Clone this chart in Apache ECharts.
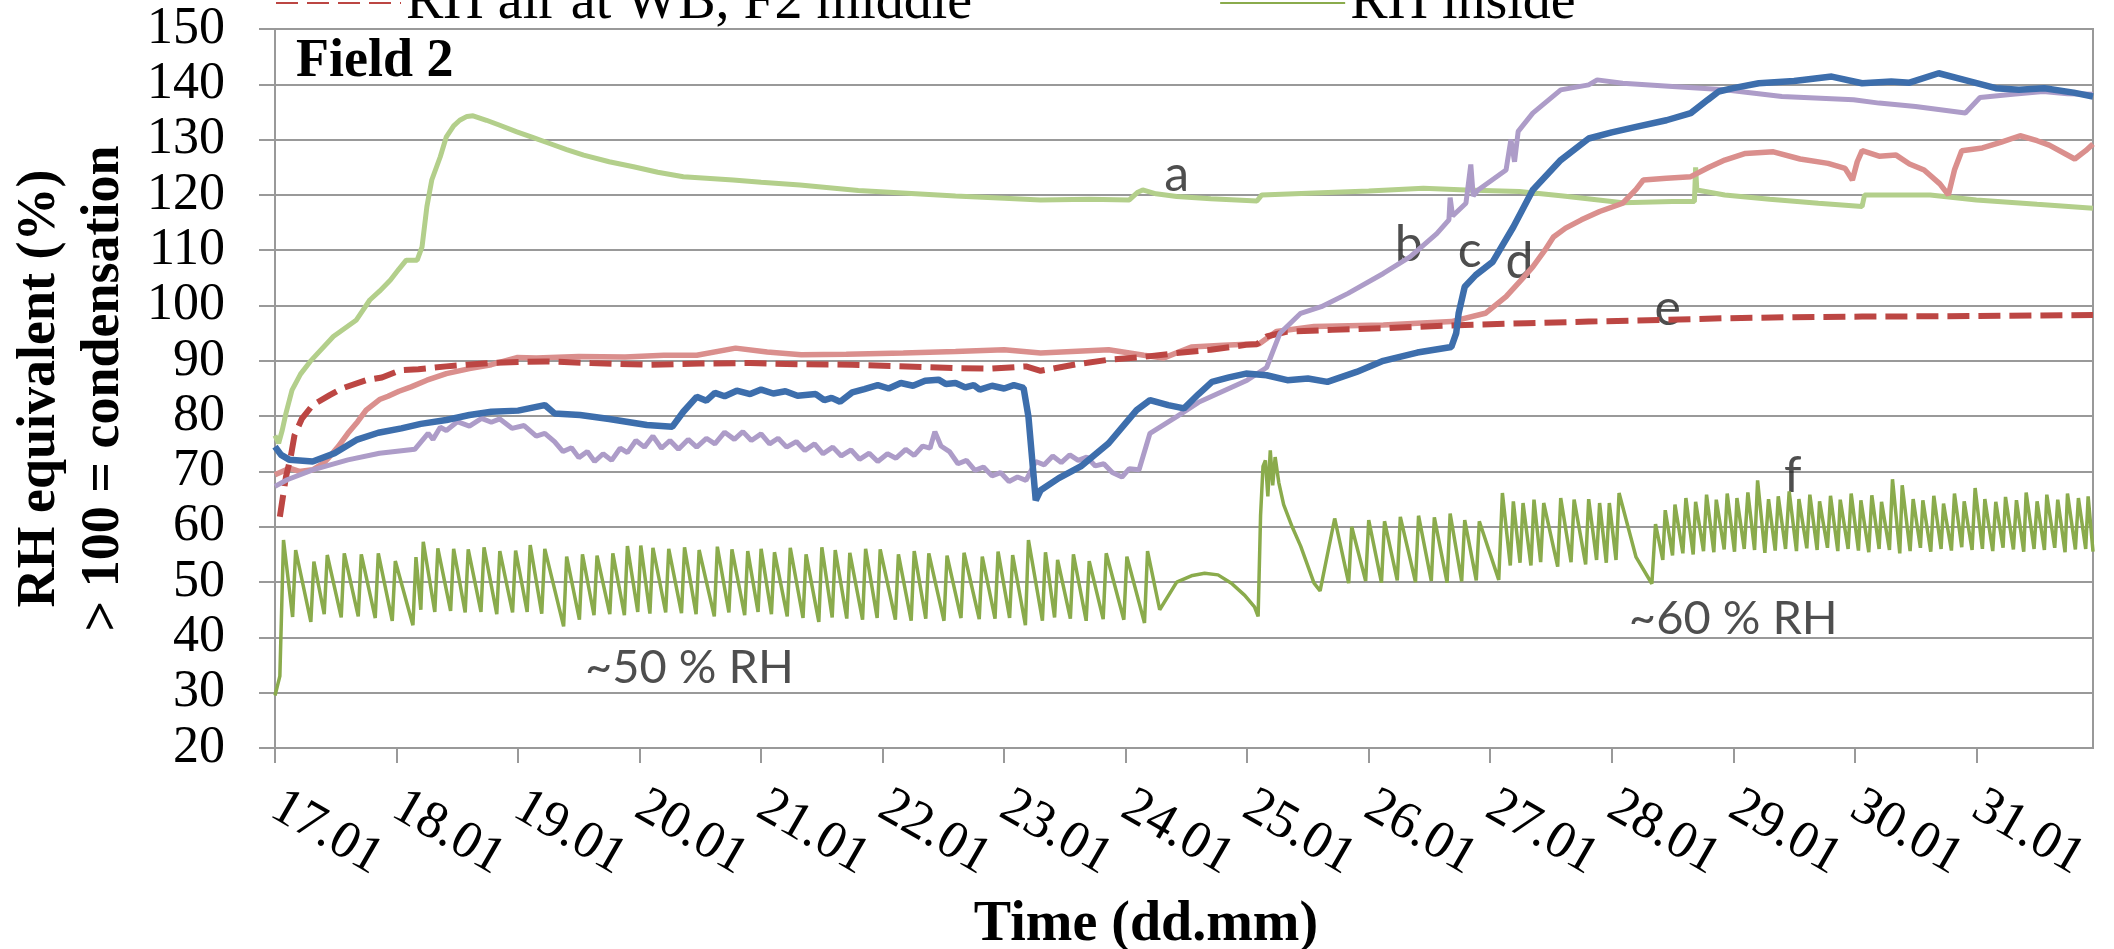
<!DOCTYPE html>
<html lang="en">
<head>
<meta charset="UTF-8">
<title>Field 2 - RH equivalent</title>
<style type="text/css">
	html, body { margin: 0; padding: 0; background: #fff; }
	#chart { width: 2114px; height: 949px; }
</style>
</head>
<body>
<div id="chart"></div>
<script type="text/javascript" src="https://cdn.jsdelivr.net/npm/echarts@6/dist/echarts.min.js"></script>
<script type="text/javascript">
// x values are days since 17.01 00:00
var dayTicks = [0, 1, 2, 3, 4, 5, 6, 7, 8, 9, 10, 11, 12, 13, 14];
var dayLabels = ['17.01', '18.01', '19.01', '20.01', '21.01', '22.01', '23.01', '24.01',
	'25.01', '26.01', '27.01', '28.01', '29.01', '30.01', '31.01'];

// a - light green
var rhA = [[0.00,76.5],[0.03,75.1],[0.06,77.5],[0.09,80.5],[0.14,84.7],[0.21,87.6],[0.29,89.9],[0.48,94.4],
	[0.67,97.4],[0.78,101.0],[0.86,102.6],[0.95,104.6],[1.02,106.6],[1.08,108.2],[1.17,108.2],[1.21,110.6],
	[1.25,117.9],[1.29,122.7],[1.36,126.9],[1.41,130.5],[1.47,132.5],[1.52,133.5],[1.58,134.2],[1.63,134.3],
	[1.74,133.5],[1.85,132.6],[1.99,131.4],[2.12,130.4],[2.26,129.3],[2.40,128.2],[2.54,127.2],[2.75,126.0],
	[2.95,125.1],[3.15,124.1],[3.36,123.3],[3.77,122.7],[4.00,122.3],[4.32,121.8],[4.80,120.8],[5.20,120.3],
	[5.60,119.8],[6.00,119.4],[6.30,119.1],[6.70,119.2],[7.03,119.1],[7.10,120.5],[7.14,120.9],[7.25,120.2],
	[7.42,119.7],[7.70,119.3],[8.08,118.9],[8.12,120.0],[8.50,120.3],[9.00,120.7],[9.45,121.2],[9.80,120.9],
	[10.24,120.6],[10.60,119.8],[11.09,118.6],[11.50,118.8],[11.68,118.8],[11.69,125.0],[11.70,120.9],[11.93,120.0],
	[12.30,119.2],[12.70,118.5],[13.06,117.9],[13.08,120.0],[13.62,120.0],[14.00,119.1],[14.50,118.3],[14.96,117.6]];

// b - lavender
var rhB = [[0.00,67.3],[0.10,68.5],[0.31,70.3],[0.60,72.1],[0.86,73.3],[1.15,74.0],[1.26,76.9],[1.30,75.8],
	[1.36,78.0],[1.41,77.4],[1.50,79.0],[1.60,78.2],[1.70,79.6],[1.78,78.9],[1.85,79.5],[1.95,77.8],[2.05,78.3],
	[2.15,76.4],[2.22,76.9],[2.30,75.4],[2.37,73.6],[2.44,74.3],[2.50,72.5],[2.57,73.6],[2.63,71.8],[2.70,73.2],
	[2.77,72.0],[2.84,74.2],[2.90,73.4],[2.97,75.6],[3.04,74.4],[3.11,76.4],[3.18,74.2],[3.25,75.6],[3.32,74.0],
	[3.40,75.8],[3.47,74.4],[3.55,76.0],[3.62,75.0],[3.70,77.1],[3.78,75.8],[3.85,77.2],[3.92,75.6],[4.00,76.8],
	[4.07,75.0],[4.14,76.0],[4.21,74.4],[4.29,75.4],[4.36,73.8],[4.44,75.0],[4.51,73.2],[4.59,74.4],[4.66,72.8],
	[4.74,73.9],[4.81,72.2],[4.89,73.3],[4.96,71.8],[5.04,73.2],[5.11,72.4],[5.19,74.0],[5.26,72.9],[5.33,74.6],
	[5.39,74.2],[5.43,77.2],[5.48,74.6],[5.55,73.6],[5.62,71.4],[5.69,72.0],[5.76,70.2],[5.83,70.8],[5.90,69.2],
	[5.97,69.8],[6.04,68.2],[6.11,69.0],[6.18,68.4],[6.26,71.8],[6.33,71.2],[6.40,72.8],[6.47,71.6],[6.54,73.0],
	[6.61,72.0],[6.68,72.6],[6.75,71.0],[6.82,71.4],[6.89,69.8],[6.97,69.0],[7.03,70.5],[7.11,70.3],[7.20,76.9],
	[7.42,79.9],[7.60,82.5],[7.80,84.5],[8.00,86.5],[8.16,88.8],[8.27,95.0],
	[8.44,98.6],[8.61,99.8],[8.83,102.2],[9.12,105.8],[9.34,108.8],[9.56,113.0],[9.66,115.5],[9.67,119.5],
	[9.69,116.2],[9.80,118.5],[9.84,125.5],[9.86,119.8],[9.90,120.9],[10.13,124.5],[10.17,130.0],[10.20,126.0],
	[10.23,131.5],[10.35,134.8],[10.58,139.0],[10.81,139.9],[10.88,140.8],[11.09,140.2],[11.50,139.6],[11.93,139.0],
	[12.40,137.8],[12.99,137.2],[13.20,136.6],[13.50,136.0],[13.91,134.8],[14.03,137.6],[14.30,138.2],[14.55,138.7],
	[14.75,138.3],[14.96,138.2]];

// c - blue
var rhC = [[0.00,74.5],[0.05,73.0],[0.12,72.1],[0.31,71.8],[0.49,73.3],[0.67,75.7],[0.85,77.0],[1.04,77.8],
	[1.20,78.6],[1.41,79.3],[1.60,80.2],[1.78,80.8],[2.00,81.0],[2.22,82.0],[2.30,80.5],[2.51,80.2],[2.75,79.5],
	[3.06,78.4],[3.27,78.1],[3.36,80.8],[3.47,83.5],[3.55,82.8],[3.62,84.2],[3.70,83.6],[3.80,84.6],[3.91,84.0],
	[4.00,84.8],[4.10,84.1],[4.20,84.5],[4.30,83.7],[4.45,84.0],[4.52,82.9],[4.58,83.3],[4.65,82.6],[4.75,84.3],
	[4.85,84.9],[4.96,85.6],[5.05,85.0],[5.15,86.0],[5.25,85.5],[5.35,86.4],[5.46,86.6],[5.52,85.8],[5.60,86.0],
	[5.68,85.2],[5.75,85.6],[5.80,84.8],[5.90,85.5],[6.00,85.0],[6.08,85.6],[6.16,85.1],[6.20,79.9],
	[6.26,64.8],[6.30,66.6],[6.45,68.8],[6.63,70.9],[6.86,75.1],[7.09,81.1],[7.20,82.9],[7.35,82.0],[7.48,81.4],
	[7.60,84.0],[7.71,86.2],[7.85,87.0],[7.99,87.7],[8.16,87.4],[8.33,86.5],[8.50,86.8],[8.66,86.2],[8.90,88.0],
	[9.12,90.0],[9.40,91.5],[9.68,92.5],[9.72,95.0],[9.74,98.6],[9.79,103.4],[9.88,105.5],[10.02,107.9],
	[10.19,114.2],[10.35,120.9],[10.58,126.3],[10.81,130.2],[11.00,131.3],[11.20,132.3],[11.45,133.5],[11.65,134.8],
	[11.79,137.2],[11.88,138.7],[12.00,139.3],[12.21,140.2],[12.50,140.6],[12.81,141.4],[13.06,140.2],[13.30,140.5],
	[13.45,140.3],[13.69,142.0],[13.90,140.8],[14.16,139.3],[14.35,139.0],[14.56,139.3],[14.80,138.5],[14.96,137.8]];

// d - pink
var rhD = [[0.00,69.4],[0.12,70.6],[0.20,70.0],[0.31,70.3],[0.40,71.5],[0.45,72.7],[0.52,74.5],[0.60,76.9],
	[0.68,79.0],[0.75,81.1],[0.86,83.0],[0.93,83.6],[1.02,84.5],[1.12,85.3],[1.25,86.5],[1.41,87.7],[1.60,88.6],
	[1.78,89.3],[1.99,90.6],[2.15,90.5],[2.50,90.8],[2.88,90.7],[3.20,91.0],[3.47,91.0],[3.79,92.3],[4.05,91.6],
	[4.33,91.1],[4.70,91.2],[5.17,91.4],[5.60,91.7],[6.00,92.0],[6.30,91.4],[6.86,92.0],[7.15,91.0],[7.31,90.5],
	[7.54,92.5],[7.80,92.8],[8.10,93.1],[8.24,95.3],[8.55,96.2],[9.12,96.5],[9.68,97.1],[9.96,98.6],[10.13,101.6],
	[10.25,104.5],[10.35,107.0],[10.45,110.0],[10.52,112.4],[10.62,114.0],[10.75,115.5],[10.90,117.0],[11.09,118.5],
	[11.20,121.0],[11.26,122.7],[11.45,123.0],[11.65,123.3],[11.80,125.0],[11.93,126.3],[12.10,127.5],[12.33,127.8],
	[12.55,126.5],[12.78,125.7],[12.92,124.8],[12.98,122.7],[13.02,126.0],[13.06,128.0],[13.20,127.0],[13.34,127.2],
	[13.45,125.6],[13.57,124.5],[13.70,122.0],[13.77,120.0],[13.82,124.5],[13.88,128.0],[14.05,128.5],[14.20,129.5],
	[14.36,130.7],[14.50,129.8],[14.60,129.0],[14.81,126.5],[14.90,128.0],[14.96,129.2]];

// e - RH air at WB, F2 middle (red dashed)
var rhAirWB = [[0.04,61.8],[0.09,69.0],[0.13,72.7],[0.16,76.5],[0.22,79.5],[0.31,82.0],[0.45,83.8],[0.55,85.0],
	[0.75,86.5],[0.88,87.0],[1.03,88.3],[1.18,88.5],[1.41,89.0],[1.58,89.3],[1.78,89.6],[2.00,89.8],[2.23,89.9],
	[2.60,89.6],[3.07,89.3],[3.50,89.5],[3.91,89.6],[4.30,89.4],[4.75,89.3],[5.20,89.0],[5.59,88.7],[5.90,88.6],
	[6.18,89.0],[6.30,88.2],[6.60,89.4],[6.86,90.2],[7.10,90.6],[7.42,91.4],[7.70,92.0],[7.99,92.9],[8.08,93.0],
	[8.16,94.4],[8.33,95.3],[8.70,95.6],[9.12,95.9],[9.79,96.5],[10.30,96.8],[10.81,97.1],[11.40,97.4],[11.93,97.7],
	[12.50,97.9],[13.06,98.0],[14.00,98.1],[14.96,98.3]];

// f - RH inside (sawtooth of the humidifier)
var rhInside = [[0.00,29.5],[0.04,33.0],[0.07,57.6],
	[0.145,43.7],[0.17,55.8],[0.295,42.8],[0.32,53.7],[0.405,44.2],[0.43,54.9],[0.545,43.6],[0.57,55.2],
	[0.685,43.8],[0.71,55.0],[0.825,43.5],[0.85,55.2],[0.965,43.0],[0.99,53.8],[1.135,42.2],[1.16,54.5],
	[1.20,45.0],[1.22,57.3],[1.315,44.6],[1.34,56.1],[1.445,44.8],[1.47,56.0],[1.565,44.5],[1.59,55.9],
	[1.695,44.6],[1.72,56.3],[1.825,44.2],[1.85,55.6],[1.955,44.5],[1.98,55.7],[2.075,44.6],[2.10,56.7],
	[2.195,44.3],[2.22,56.0],[2.375,42.0],[2.40,54.6],[2.505,43.2],[2.53,55.0],[2.625,44.0],[2.65,54.8],
	[2.755,44.2],[2.78,55.2],[2.875,44.0],[2.90,56.5],[2.985,44.6],[3.01,56.6],[3.085,44.3],[3.11,56.2],
	[3.215,44.5],[3.24,56.0],[3.345,44.4],[3.37,56.3],[3.465,44.2],[3.49,55.8],[3.615,43.8],[3.64,56.4],
	[3.735,44.5],[3.76,55.9],[3.865,44.0],[3.89,55.6],[3.975,44.6],[4.00,56.0],[4.085,44.2],[4.11,55.4],
	[4.215,43.8],[4.24,56.2],[4.345,43.5],[4.37,55.0],[4.475,42.8],[4.50,56.3],[4.585,43.6],[4.61,55.8],
	[4.705,43.4],[4.73,55.3],[4.835,43.2],[4.86,56.0],[4.955,43.5],[4.98,55.9],[5.105,43.2],[5.13,55.0],
	[5.235,43.0],[5.26,55.6],[5.355,43.4],[5.38,55.2],[5.505,43.0],[5.53,54.8],[5.645,43.5],[5.67,55.3],
	[5.795,43.3],[5.82,54.6],[5.925,43.4],[5.95,55.5],[6.045,43.5],[6.07,54.9],[6.175,42.2],[6.20,57.6],
	[6.315,43.0],[6.34,55.4],[6.415,43.6],[6.44,54.0],[6.545,43.4],[6.57,55.0],[6.675,43.0],[6.70,53.8],
	[6.815,43.3],[6.84,55.2],[6.985,43.2],[7.01,54.6],[7.155,42.6],[7.18,55.6],
	[7.28,45.0],[7.42,50.0],[7.55,51.2],[7.65,51.6],[7.76,51.3],[7.87,49.8],[7.98,47.6],[8.06,45.5],[8.09,43.8],
	[8.11,62.0],[8.13,70.9],[8.15,72.0],[8.17,65.5],[8.19,73.8],[8.21,67.5],[8.23,72.6],[8.26,68.0],[8.30,64.0],
	[8.37,60.0],[8.44,56.5],[8.55,49.8],[8.60,48.4],
	[8.72,61.5],[8.835,49.8],[8.86,60.0],[8.975,50.2],[9.00,61.2],[9.105,49.9],[9.13,61.0],[9.235,50.3],[9.26,61.8],
	[9.385,50.0],[9.41,62.0],[9.515,50.2],[9.54,61.7],[9.645,49.9],[9.67,62.4],[9.765,50.1],[9.79,61.2],
	[9.885,50.3],[9.91,61.0],[10.07,50.4],[10.10,66.1],[10.165,53.0],[10.19,64.6],[10.245,53.5],[10.27,64.3],
	[10.335,53.0],[10.36,64.9],[10.415,53.6],[10.44,64.3],[10.555,52.8],[10.58,65.2],[10.665,53.6],[10.69,64.9],
	[10.785,53.2],[10.81,65.0],[10.875,54.0],[10.90,64.3],[10.955,53.5],[10.98,64.3],[11.035,54.0],[11.06,66.1],
	[11.20,54.5],[11.33,49.7],
	[11.36,60.5],[11.42,54.0],[11.44,63.0],[11.50,54.8],[11.52,64.0],[11.585,55.2],[11.61,65.2],[11.67,55.0],
	[11.69,64.5],[11.755,55.6],[11.78,65.8],[11.84,55.4],[11.86,64.9],[11.925,55.9],[11.95,66.0],[12.01,55.5],
	[12.03,65.2],[12.09,56.0],[12.12,66.2],[12.175,55.8],[12.20,68.4],[12.26,55.3],[12.29,65.0],[12.345,55.7],
	[12.37,65.5],[12.43,56.0],[12.46,66.4],[12.52,55.6],[12.54,65.0],[12.605,56.1],[12.63,65.8],[12.69,55.8],
	[12.71,64.6],[12.775,56.2],[12.80,65.6],[12.86,55.6],[12.88,64.9],[12.945,56.0],[12.97,66.0],[13.03,55.7],
	[13.05,64.8],[13.115,55.4],[13.14,65.7],[13.20,56.0],[13.22,64.5],[13.285,55.8],[13.31,68.6],[13.37,55.2],
	[13.39,67.5],[13.455,55.6],[13.48,65.0],[13.54,56.2],[13.56,64.8],[13.625,55.5],[13.65,65.6],[13.71,56.0],
	[13.73,64.2],[13.795,55.7],[13.82,66.0],[13.88,56.3],[13.90,64.6],[13.965,55.8],[13.99,67.0],[14.05,56.0],
	[14.07,65.0],[14.135,55.6],[14.16,64.5],[14.22,56.2],[14.24,65.4],[14.305,55.9],[14.33,64.8],[14.39,55.5],
	[14.41,66.2],[14.475,56.0],[14.50,64.6],[14.56,55.8],[14.58,65.8],[14.645,56.2],[14.67,64.9],[14.73,55.4],
	[14.75,66.0],[14.815,55.9],[14.84,65.2],[14.90,56.0],[14.92,65.5],[14.96,55.5]];

// text notes in the plot: [day, value, text]
var letterNotes = [[7.42,123.6,'a'],[9.33,111.0,'b'],[9.83,109.9,'c'],[10.24,107.9,'d'],[11.46,99.4,'e'],[12.49,69.2,'f']];
var rhNotes = [[3.41,34.5,'~50 % RH'],[12.0,43.4,'~60 % RH']];

var myChart = echarts.init(document.getElementById('chart'));
var serif = '"Liberation Serif", "Times New Roman", serif';
var sans = 'Lato, "Liberation Sans", sans-serif';
var gray = '#999999';

var option = {
	animation: false,
	title: {
		text: 'Field 2',
		left: 296,
		top: 35,
		padding: 0,
		textStyle: { fontFamily: serif, fontSize: 54, fontWeight: 'bold', color: '#000' }
	},
	legend: {
		data: ['RH air at WB, F2 middle', 'RH inside'],
		left: 270,
		top: -30,
		itemWidth: 125,
		itemHeight: 8,
		itemGap: 247,
		itemStyle: { opacity: 0 },
		textStyle: { fontFamily: serif, fontSize: 56, color: '#000' }
	},
	grid: {
		left: 275,
		right: 21,
		top: 29,
		bottom: 201,
		outerBoundsMode: 'none',
		containLabel: false,
		show: true,
		borderColor: gray,
		borderWidth: 2
	},
	xAxis: {
		type: 'value',
		min: 0,
		max: 14.96,
		interval: 1,
		name: 'Time (dd.mm)',
		nameLocation: 'middle',
		nameGap: 150,
		nameTextStyle: { fontFamily: serif, fontSize: 56, fontWeight: 'bold', color: '#000', padding: [0, 76, 0, 0] },
		axisLine: { lineStyle: { color: gray, width: 2 } },
		axisTick: { show: true, length: 15, customValues: dayTicks, lineStyle: { color: gray, width: 2 } },
		axisLabel: {
			customValues: dayTicks,
			rotate: -30,
			margin: 55,
			fontFamily: serif,
			fontSize: 53,
			color: '#000',
			formatter: function (v) {
				var i = Math.round(v);
				return Math.abs(v - i) < 1e-6 && dayLabels[i] ? dayLabels[i] : '';
			}
		},
		splitLine: { show: false }
	},
	yAxis: {
		type: 'value',
		min: 20,
		max: 150,
		interval: 10,
		name: 'RH equivalent (%)\n> 100 = condensation',
		nameLocation: 'middle',
		nameGap: 139,
		nameTextStyle: { fontFamily: serif, fontSize: 54, fontWeight: 'bold', color: '#000', lineHeight: 64 },
		axisLine: { show: true, lineStyle: { color: gray, width: 2 } },
		axisTick: { show: true, length: 16, lineStyle: { color: gray, width: 2 } },
		axisLabel: { margin: 50, fontFamily: serif, fontSize: 52, color: '#000' },
		splitLine: { lineStyle: { color: gray, width: 2 } }
	},
	series: [
		{ name: 'a', type: 'line', data: rhA, symbol: 'none', lineStyle: { color: '#B3CF8B', width: 5 }, itemStyle: { color: '#B3CF8B' } },
		{ name: 'd', type: 'line', data: rhD, symbol: 'none', lineStyle: { color: '#DA8F8D', width: 5.5 }, itemStyle: { color: '#DA8F8D' } },
		{ name: 'RH air at WB, F2 middle', type: 'line', data: rhAirWB, symbol: 'none',
			lineStyle: { color: '#BC4643', width: 6, type: [22, 9] }, itemStyle: { color: '#BC4643' } },
		{ name: 'b', type: 'line', data: rhB, symbol: 'none', lineStyle: { color: '#AD9CC8', width: 5 }, itemStyle: { color: '#AD9CC8' } },
		{ name: 'c', type: 'line', data: rhC, symbol: 'none', lineStyle: { color: '#3D6EAC', width: 6.5 }, itemStyle: { color: '#3D6EAC' } },
		{ name: 'RH inside', type: 'line', data: rhInside, symbol: 'none', lineStyle: { color: '#8AAB4C', width: 3.5 }, itemStyle: { color: '#8AAB4C' } },
		{
			name: 'letters', type: 'scatter', data: letterNotes, symbolSize: 1, silent: true,
			itemStyle: { color: 'rgba(0,0,0,0)' },
			label: { show: true, position: 'inside', formatter: function (p) { return p.data[2]; },
				fontFamily: sans, fontSize: 50, color: '#222' }
		},
		{
			name: 'rh notes', type: 'scatter', data: rhNotes, symbolSize: 1, silent: true,
			itemStyle: { color: 'rgba(0,0,0,0)' },
			label: { show: true, position: 'inside', formatter: function (p) { return p.data[2]; },
				fontFamily: sans, fontSize: 47, color: '#222' }
		}
	]
};
myChart.setOption(option);
</script>
</body>
</html>
